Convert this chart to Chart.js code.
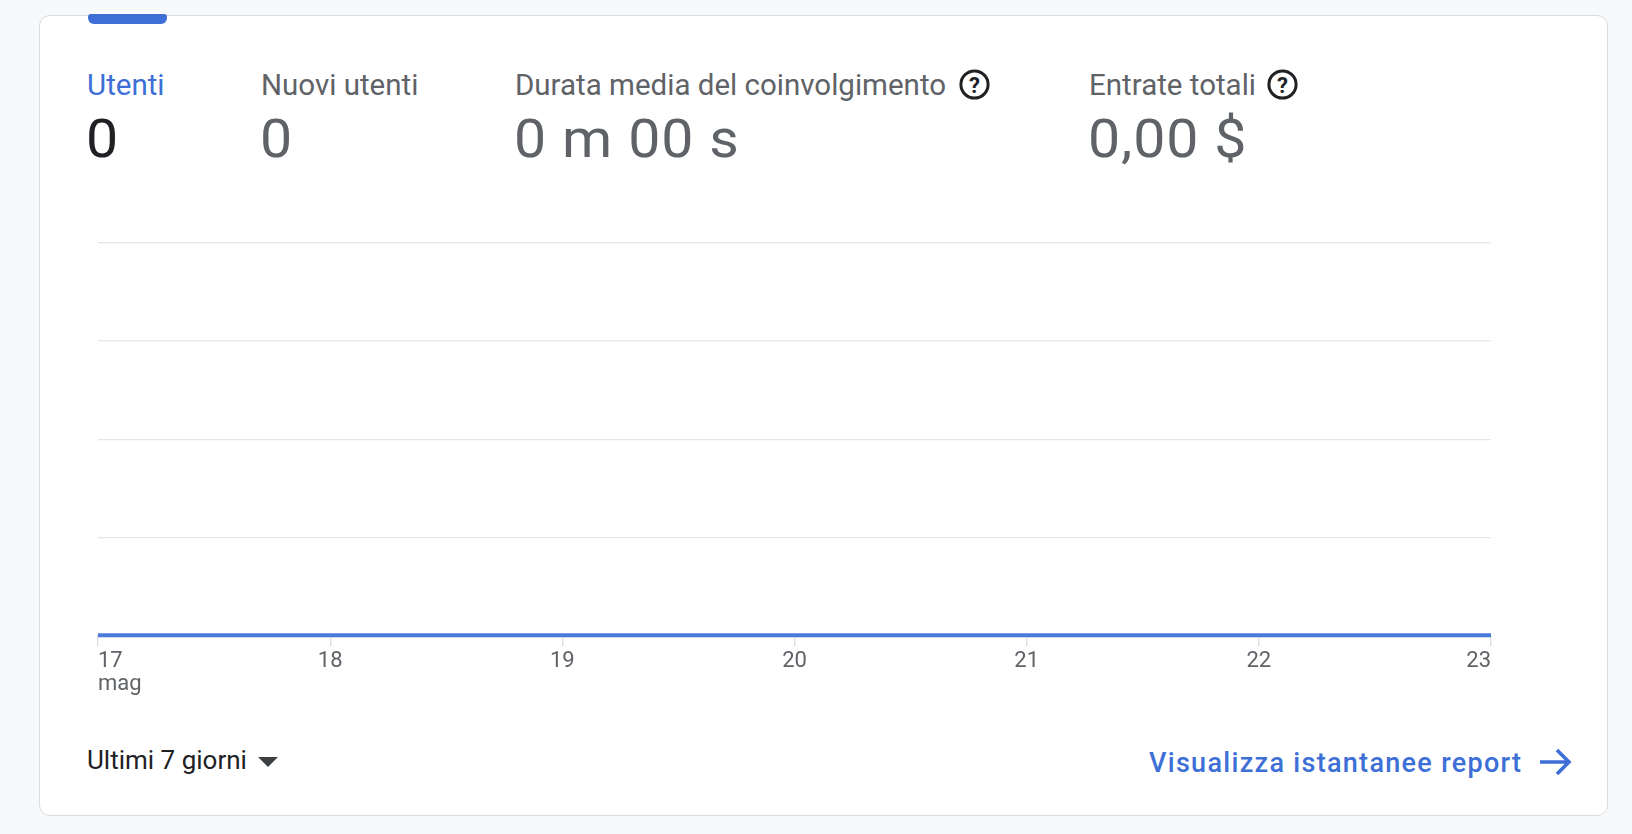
<!DOCTYPE html>
<html lang="it">
<head>
<meta charset="utf-8">
<title>Utenti - ultimi 7 giorni</title>
<script src="https://cdn.jsdelivr.net/npm/chart.js@4.4.1/dist/chart.umd.min.js"></script>
<style>
  html, body { margin: 0; padding: 0; }
  body {
    width: 1632px;
    height: 834px;
    background: #f8f9fa;
    font-family: Roboto, "Noto Sans", sans-serif;
    position: relative;
    overflow: hidden;
  }
  .card {
    position: absolute;
    left: 39px;
    top: 15px;
    width: 1569px;
    height: 801px;
    box-sizing: border-box;
    background: #fff;
    border: 1.5px solid #dadce0;
    border-radius: 11px;
  }
  .tab-bar {
    position: absolute;
    left: 88px;
    top: 14px;
    width: 79px;
    height: 10px;
    background: #3d6fd6;
    border-radius: 3px 3px 6px 6px;
  }
  .label, .value { position: absolute; white-space: nowrap; line-height: 1; }
  .label { font-size: 29.5px; color: #5f6368; top: 71px; }
  .label.active { color: #3d6fd6; }
  .value {
    font-size: 53px;
    color: #5f6368;
    top: 113px;
    letter-spacing: 0.8px;
    transform: scaleX(1.08);
    transform-origin: left center;
  }
  .value.active { color: #202124; }
  .help {
    position: absolute;
    width: 31px;
    height: 31px;
    top: 69px;
  }
  .chart-box {
    position: absolute;
    left: 95px;
    top: 239px;
    width: 1399px;
    height: 460px;
  }
  .range {
    position: absolute;
    left: 87px;
    top: 747px;
    font-size: 26px;
    line-height: 1;
    color: #202124;
    white-space: nowrap;
  }
  .caret {
    position: absolute;
    left: 258px;
    top: 757px;
    width: 0;
    height: 0;
    border-left: 10px solid transparent;
    border-right: 10px solid transparent;
    border-top: 10px solid #3c4043;
  }
  .link {
    position: absolute;
    left: 1149px;
    top: 750px;
    font-size: 27px;
    font-weight: 500;
    letter-spacing: 1.3px;
    line-height: 1;
    color: #3d6fd6;
    white-space: nowrap;
  }
  .arrow { position: absolute; left: 1538px; top: 746px; width: 36px; height: 32px; }
</style>
</head>
<body>
<div class="card"></div>
<div class="tab-bar"></div>

<div class="label active" style="left:87px">Utenti</div>
<div class="value active" style="left:86px">0</div>

<div class="label" style="left:261px">Nuovi utenti</div>
<div class="value" style="left:260px">0</div>

<div class="label" style="left:515px">Durata media del coinvolgimento</div>
<div class="value" style="left:514px">0 m 00 s</div>
<svg class="help" style="left:959px" viewBox="0 0 31 31">
  <circle cx="15.5" cy="15.5" r="13.6" fill="none" stroke="#202124" stroke-width="3"/>
  <text x="15.5" y="23.5" text-anchor="middle" font-family="Roboto" font-weight="700" font-size="22" fill="#202124">?</text>
</svg>

<div class="label" style="left:1089px">Entrate totali</div>
<div class="value" style="left:1088px">0,00 $</div>
<svg class="help" style="left:1267px" viewBox="0 0 31 31">
  <circle cx="15.5" cy="15.5" r="13.6" fill="none" stroke="#202124" stroke-width="3"/>
  <text x="15.5" y="23.5" text-anchor="middle" font-family="Roboto" font-weight="700" font-size="22" fill="#202124">?</text>
</svg>

<div class="chart-box"><canvas id="usersChart"></canvas></div>

<div class="range">Ultimi 7 giorni</div>
<div class="caret"></div>
<div class="link">Visualizza istantanee report</div>
<svg class="arrow" viewBox="0 0 36 32">
  <path d="M2 16 H31 M19 4 L31 16 L19 28" fill="none" stroke="#3d6fd6" stroke-width="3.6" stroke-linecap="butt" stroke-linejoin="miter"/>
</svg>

<script>
// days shown on the x axis (first one carries the month)
const days = [["17", "mag"], "18", "19", "20", "21", "22", "23"];
// Utenti per day
const users = [0, 0, 0, 0, 0, 0, 0];
// hidden y scale: four gridlines above the baseline
const yMax = 4;
const yStep = 1;

const colors = {
  line: "#4a7bdc",
  grid: "#e6e6e6",
  tick: "#dadce0",
  text: "#5f6368",
};

Chart.defaults.font.family = "Roboto, 'Noto Sans', sans-serif";

new Chart(document.querySelector("#usersChart"), {
  type: "line",
  data: {
    labels: days,
    datasets: [{
      label: "Utenti",
      data: users,
      borderColor: colors.line,
      backgroundColor: colors.line,
      borderWidth: 4,
      pointRadius: 0,
      pointHoverRadius: 0,
      tension: 0,
      clip: false,
    }],
  },
  options: {
    responsive: true,
    maintainAspectRatio: false,
    animation: false,
    layout: { padding: { top: 4, left: 0, right: 0, bottom: 0 } },
    plugins: {
      legend: { display: false },
      tooltip: { enabled: false },
    },
    scales: {
      x: {
        type: "category",
        offset: false,
        border: { display: false },
        grid: {
          drawOnChartArea: false,
          drawTicks: true,
          tickLength: 11,
          color: colors.tick,
          lineWidth: 1.3,
        },
        ticks: {
          align: "inner",
          autoSkip: false,
          maxRotation: 0,
          padding: 3,
          color: colors.text,
          font: { size: 22, lineHeight: 1.06 },
        },
      },
      y: {
        min: 0,
        max: yMax,
        border: { display: false },
        grid: {
          drawTicks: false,
          color: colors.grid,
          lineWidth: 1.3,
        },
        ticks: { display: false, stepSize: yStep },
      },
    },
  },
});
</script>
</body>
</html>
